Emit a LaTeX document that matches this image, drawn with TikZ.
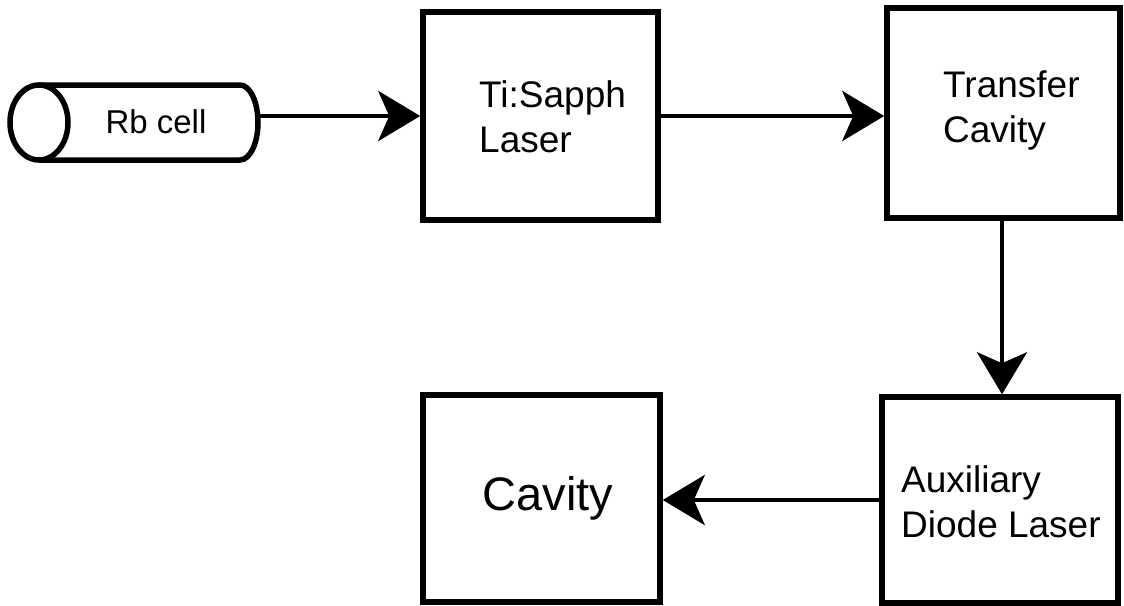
\documentclass[tikz,border=0pt]{standalone}
\usepackage{fontspec}
\setmainfont{Liberation Sans}
\usetikzlibrary{arrows.meta,calc}
\begin{document}
\begin{tikzpicture}[x=1pt,y=-1pt,
  box/.style={draw,line width=5.5pt,rectangle,inner sep=0pt},
  conn/.style={line width=4.5pt,-{Stealth[length=42pt,width=50pt,inset=11pt]}},
  lbl/.style={font=\fontsize{37}{45}\selectfont,align=left,inner sep=0pt,anchor=base west},
  ]
\useasboundingbox[fill=white] (0,0) rectangle (1124,605);
% Rb cell cylinder
\draw[line width=5.5pt] (39,85) -- (240,85) arc[start angle=90,end angle=-90,x radius=18pt,y radius=37.5pt] -- (39,160);
\draw[line width=5.5pt] (39,122.5) ellipse[x radius=29pt,y radius=37.5pt];
\node[inner sep=0pt,minimum width=204pt,minimum height=75pt] (rb) at (156,122.5) {};
\node[inner sep=0pt,anchor=base,font=\fontsize{33}{40}\selectfont] (rbtext) at (156,133) {Rb cell};
% boxes
\node[box,minimum width=235pt,minimum height=208pt] (ti) at (540.5,116) {};
\node[box,minimum width=233pt,minimum height=210pt] (tc) at (1003.5,113) {};
\node[box,minimum width=236pt,minimum height=206pt] (aux) at (1000,500) {};
\node[box,minimum width=237pt,minimum height=207pt] (cav) at (541.5,498.5) {};
% texts (anchor = baseline of last line)
\node[lbl] (titext) at (479,152) {Ti:Sapph\\Laser};
\node[lbl] (tctext) at (943,142) {Transfer\\Cavity};
\node[lbl] (auxtext) at (901,537) {Auxiliary\\Diode Laser};
\node[inner sep=0pt,anchor=base,font=\fontsize{47}{56}\selectfont] (cavtext) at (548,510) {Cavity};
% connectors
\draw[conn] (ti.west -| rb.east) -- (ti.west);
\draw[conn] (ti.east) -- (tc.west |- ti.east);
\draw[conn] (tc.south -| 1002,0) -- (aux.north -| 1002,0);
\draw[conn] (aux.west) -- (cav.east |- aux.west);
\end{tikzpicture}
\end{document}
